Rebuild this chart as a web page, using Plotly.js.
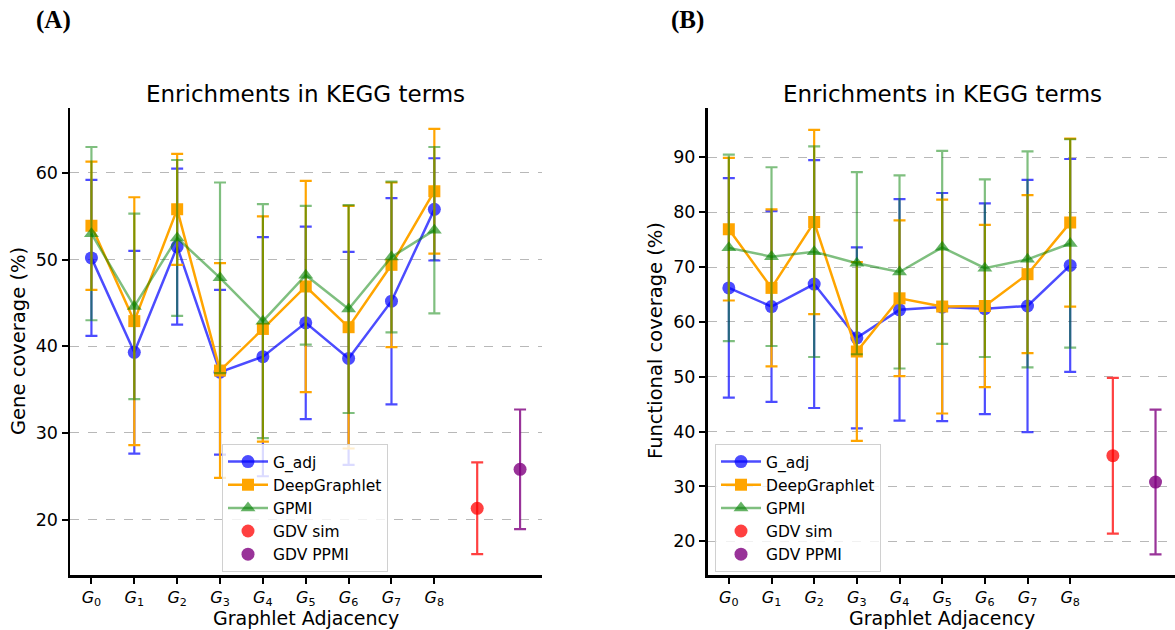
<!DOCTYPE html>
<html>
<head>
<meta charset="utf-8">
<script src="https://cdn.plot.ly/plotly-3.0.1.min.js"></script>
<style>html,body{margin:0;padding:0;background:#fff;overflow:hidden}#chart{width:1175px;height:630px}</style>
</head>
<body>
<div id="chart"></div>
<script>
// ---- data ----
const graphletLabels = ['<i>G</i><sub>0</sub>','<i>G</i><sub>1</sub>','<i>G</i><sub>2</sub>','<i>G</i><sub>3</sub>','<i>G</i><sub>4</sub>','<i>G</i><sub>5</sub>','<i>G</i><sub>6</sub>','<i>G</i><sub>7</sub>','<i>G</i><sub>8</sub>'];
const graphletIdx = [0,1,2,3,4,5,6,7,8];
const gdvSimIdx = [9];
const gdvPpmiIdx = [10];

// Panel A: Gene coverage (%)
const A_gadj = [50.2, 39.3, 51.5, 37.0, 38.8, 42.7, 38.6, 45.2, 55.8];
const A_gadjErr = [9.0, 11.7, 9.0, 9.5, 13.8, 11.1, 12.3, 11.9, 5.9];
const A_deep = [53.9, 42.9, 55.8, 37.2, 42.0, 46.9, 42.2, 49.4, 57.9];
const A_deepErr = [7.4, 14.3, 6.4, 12.4, 13.0, 12.2, 14.0, 9.5, 7.2];
const A_gpmi = [53.0, 44.6, 52.5, 47.9, 42.9, 48.2, 44.3, 50.3, 53.4];
const A_gpmiErr = [10.0, 10.7, 9.0, 11.0, 13.5, 8.0, 12.0, 8.7, 9.6];
const A_gdvSim = [21.3], A_gdvSimErr = [5.3];
const A_gdvPpmi = [25.8], A_gdvPpmiErr = [6.9];

// Panel B: Functional coverage (%)
const B_gadj = [66.2, 62.8, 66.9, 57.1, 62.2, 62.7, 62.4, 62.9, 70.3];
const B_gadjErr = [20.0, 17.4, 22.6, 16.5, 20.2, 20.8, 19.2, 23.0, 19.4];
const B_deep = [76.9, 66.2, 78.2, 54.6, 64.3, 62.8, 62.9, 68.7, 78.1];
const B_deepErr = [13.0, 14.3, 16.8, 16.3, 14.2, 19.5, 14.8, 14.4, 15.3];
const B_gpmi = [73.5, 71.9, 72.8, 70.7, 69.1, 73.6, 69.8, 71.4, 74.3];
const B_gpmiErr = [17.0, 16.3, 19.2, 16.6, 17.6, 17.6, 16.2, 19.7, 19.0];
const B_gdvSim = [35.6], B_gdvSimErr = [14.2];
const B_gdvPpmi = [30.8], B_gdvPpmiErr = [13.2];

// ---- styles ----
const FONT = 'DejaVu Sans, sans-serif';
const S = {
  gadj: {name:'G_adj', color:'rgba(0,0,255,0.7)', symbol:'circle', size:13},
  deep: {name:'DeepGraphlet', color:'rgb(255,165,0)', symbol:'square', size:12},
  gpmi: {name:'GPMI', color:'rgba(0,128,0,0.5)', mcolor:'rgba(0,128,0,0.6)', symbol:'triangle-up', size:13},
  sim:  {name:'GDV sim', color:'rgba(255,0,0,0.75)', symbol:'circle', size:13},
  ppmi: {name:'GDV PPMI', color:'rgba(128,0,128,0.8)', symbol:'circle', size:13}
};

function tr(x, y, err, st, ax, lg, lines) {
  return {
    x: x, y: y, type:'scatter', mode: lines ? 'lines+markers' : 'markers',
    name: st.name, xaxis: ax.x, yaxis: ax.y, legend: lg,
    line: {color: st.color, width: 2.5},
    marker: {color: st.mcolor || st.color, symbol: st.symbol, size: st.size},
    error_y: {type:'data', array: err, visible:true, color: st.color, thickness: 2.2, width: 6}
  };
}
const axA = {x:'x', y:'y'}, axB = {x:'x2', y:'y2'};
const data = [
  tr(graphletIdx, A_gadj, A_gadjErr, S.gadj, axA, 'legend', true),
  tr(graphletIdx, A_deep, A_deepErr, S.deep, axA, 'legend', true),
  tr(graphletIdx, A_gpmi, A_gpmiErr, S.gpmi, axA, 'legend', true),
  tr(gdvSimIdx, A_gdvSim, A_gdvSimErr, S.sim, axA, 'legend', false),
  tr(gdvPpmiIdx, A_gdvPpmi, A_gdvPpmiErr, S.ppmi, axA, 'legend', false),
  tr(graphletIdx, B_gadj, B_gadjErr, S.gadj, axB, 'legend2', true),
  tr(graphletIdx, B_deep, B_deepErr, S.deep, axB, 'legend2', true),
  tr(graphletIdx, B_gpmi, B_gpmiErr, S.gpmi, axB, 'legend2', true),
  tr(gdvSimIdx, B_gdvSim, B_gdvSimErr, S.sim, axB, 'legend2', false),
  tr(gdvPpmiIdx, B_gdvPpmi, B_gdvPpmiErr, S.ppmi, axB, 'legend2', false)
];

const W = 1175, H = 630;
const yTop = 1 - 108/H, yBot = 1 - 575/H;
function xax(domain, range) {
  return {domain: domain, range: range, tickmode:'array', tickvals: graphletIdx, ticktext: graphletLabels,
    showline:true, linecolor:'#000', linewidth:2.5, ticks:'outside', ticklen:6, tickwidth:2, tickcolor:'#000',
    showgrid:false, zeroline:false, tickfont:{family:FONT, size:16, color:'#000'}, fixedrange:true};
}
function yax(anchor, range, dtick) {
  return {domain:[yBot, yTop], anchor: anchor, range: range, dtick: dtick, tick0: 0,
    showline:true, linecolor:'#000', linewidth:2.5, ticks:'outside', ticklen:6, tickwidth:2, tickcolor:'#000',
    showgrid:true, gridcolor:'#b8b8b8', griddash:'dash', gridwidth:1, zeroline:false,
    tickfont:{family:FONT, size:17.5, color:'#000'}, fixedrange:true};
}
const legendStyle = (x) => ({x: x, y: 1 - 444/H, xanchor:'left', yanchor:'top', xref:'paper', yref:'paper',
  bgcolor:'rgba(255,255,255,0.8)', bordercolor:'#d0d0d0', borderwidth:1,
  font:{family:FONT, size:15.5, color:'#000'}, itemwidth:40});

const layout = {
  width: W, height: H, margin:{l:0, r:0, t:0, b:0}, paper_bgcolor:'#fff', plot_bgcolor:'#fff',
  showlegend: true,
  xaxis: Object.assign(xax([70/W, 541.5/W], [-0.5, 10.5]), {anchor:'y'}),
  yaxis: yax('x', [13.6, 67.5], 10),
  xaxis2: Object.assign(xax([707.5/W, 1], [-0.5, -0.5 + (W - 707.5)/42.67]), {anchor:'y2'}),
  yaxis2: yax('x2', [13.85, 99], 10),
  legend: legendStyle(222/W),
  legend2: legendStyle(715/W),
  annotations: [
    {text:'<b>(A)</b>', x:34/W, y:1-20/H, xref:'paper', yref:'paper', xanchor:'left', yanchor:'middle', showarrow:false, font:{family:'Liberation Serif, serif', size:25, color:'#000'}},
    {text:'<b>(B)</b>', x:669/W, y:1-20/H, xref:'paper', yref:'paper', xanchor:'left', yanchor:'middle', showarrow:false, font:{family:'Liberation Serif, serif', size:25, color:'#000'}},
    {text:'Enrichments in KEGG terms', x:305.5/W, y:1-94/H, xref:'paper', yref:'paper', xanchor:'center', yanchor:'middle', showarrow:false, font:{family:FONT, size:23, color:'#000'}},
    {text:'Enrichments in KEGG terms', x:942/W, y:1-94/H, xref:'paper', yref:'paper', xanchor:'center', yanchor:'middle', showarrow:false, font:{family:FONT, size:23, color:'#000'}},
    {text:'Graphlet Adjacency', x:305.5/W, y:1-618/H, xref:'paper', yref:'paper', xanchor:'center', yanchor:'middle', showarrow:false, font:{family:FONT, size:19, color:'#000'}},
    {text:'Graphlet Adjacency', x:942/W, y:1-618/H, xref:'paper', yref:'paper', xanchor:'center', yanchor:'middle', showarrow:false, font:{family:FONT, size:19, color:'#000'}},
    {text:'Gene coverage (%)', x:18/W, y:1-341/H, xref:'paper', yref:'paper', xanchor:'center', yanchor:'middle', textangle:-90, showarrow:false, font:{family:FONT, size:19.5, color:'#000'}},
    {text:'Functional coverage (%)', x:655/W, y:1-341/H, xref:'paper', yref:'paper', xanchor:'center', yanchor:'middle', textangle:-90, showarrow:false, font:{family:FONT, size:19.5, color:'#000'}}
  ]
};

Plotly.newPlot('chart', data, layout, {staticPlot:true, displayModeBar:false});
</script>
</body>
</html>
